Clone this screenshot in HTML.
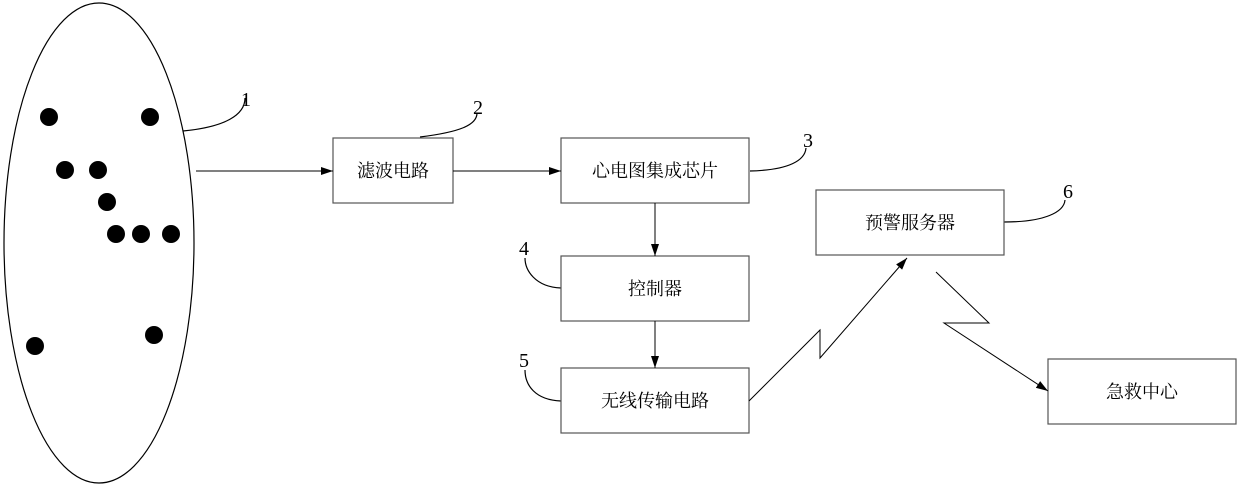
<!DOCTYPE html>
<html><head><meta charset="utf-8"><style>body{margin:0;background:#fff}svg{display:block}text{font-family:"Liberation Serif","Noto Serif CJK SC",serif;fill:#000}</style></head><body>
<svg width="1240" height="487" viewBox="0 0 1240 487">
<defs><marker id="a" markerWidth="12" markerHeight="8" refX="12" refY="4" orient="auto" markerUnits="userSpaceOnUse"><path d="M0,0 L12,4 L0,8z" fill="#000"/></marker></defs>
<g fill="none" stroke="#000" stroke-width="1.2">
<ellipse cx="99" cy="243" rx="95" ry="240"/>
<path d="M183,131 C225,127 245,115 245,98"/>
<path d="M420,137 C460,132 477,125 477,113"/>
<path d="M750,171 C790,170 805,160 806,148"/>
<path d="M561,288 C535,287 525,270 525,258"/>
<path d="M561,401 C535,400 525,385 525,370"/>
<path d="M1004,222 C1045,222 1064,212 1065,200"/>
</g>
<g fill="#000">
<circle cx="49" cy="117" r="9"/><circle cx="150" cy="117" r="9"/><circle cx="65" cy="170" r="9"/><circle cx="98" cy="170" r="9"/><circle cx="107" cy="202" r="9"/><circle cx="116" cy="234" r="9"/><circle cx="141" cy="234" r="9"/><circle cx="171" cy="234" r="9"/><circle cx="35" cy="346" r="9"/><circle cx="154" cy="335" r="9"/>
</g>
<g fill="#fff" stroke="#555" stroke-width="1.2">
<rect x="333" y="138" width="120" height="65"/>
<rect x="561" y="138" width="188" height="65"/>
<rect x="561" y="256" width="188" height="65"/>
<rect x="561" y="368" width="188" height="65"/>
<rect x="816" y="190" width="188" height="65"/>
<rect x="1048" y="359" width="188" height="65"/>
</g>
<g fill="none" stroke="#000" stroke-width="1">
<line x1="196" y1="171" x2="333" y2="171" marker-end="url(#a)"/>
<line x1="453" y1="171" x2="561" y2="171" marker-end="url(#a)"/>
<line x1="655" y1="203" x2="655" y2="256" marker-end="url(#a)"/>
<line x1="655" y1="321" x2="655" y2="368" marker-end="url(#a)"/>
<polyline points="749,401 820,330 820,358 907,258" marker-end="url(#a)"/>
<polyline points="936,272 989,323 944,323 1048,391" marker-end="url(#a)"/>
</g>
<g font-size="18" text-anchor="middle">
<text x="393" y="177">滤波电路</text>
<text x="655" y="177">心电图集成芯片</text>
<text x="655" y="295">控制器</text>
<text x="655" y="407">无线传输电路</text>
<text x="910" y="229">预警服务器</text>
<text x="1142" y="398">急救中心</text>
</g>
<g font-size="20" text-anchor="middle">
<text x="246" y="106">1</text><text x="478" y="114">2</text><text x="808" y="147">3</text><text x="524" y="255">4</text><text x="524" y="367">5</text><text x="1068" y="198">6</text>
</g>
</svg>
</body></html>
